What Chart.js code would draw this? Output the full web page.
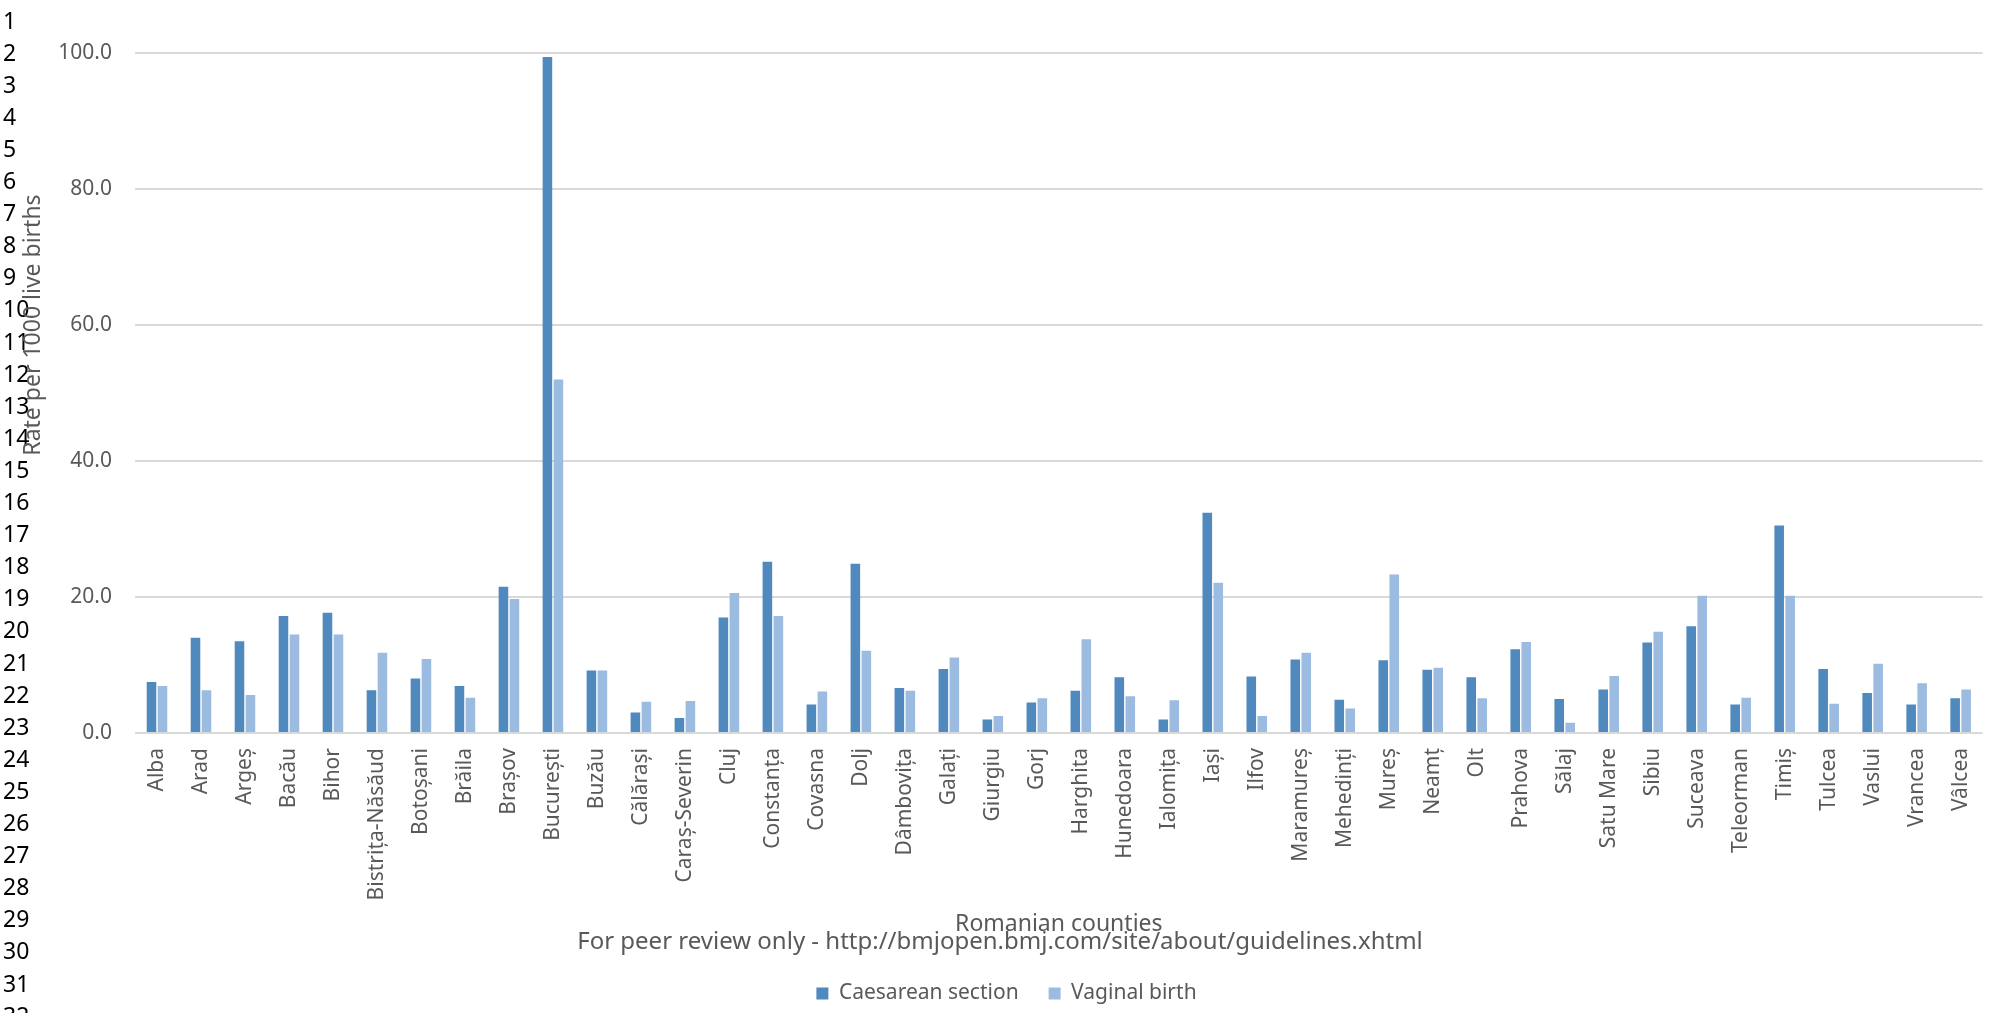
<!DOCTYPE html>
<html>
<head>
<meta charset="utf-8">
<title>Caesarean section and vaginal birth by county</title>
<script src="https://cdn.jsdelivr.net/npm/chart.js@4.4.1/dist/chart.umd.min.js"></script>
<style>
  html, body { margin: 0; padding: 0; background: #fff; }
  #wrap { width: 2001px; height: 1013px; }
</style>
</head>
<body>
<div id="wrap"><canvas id="chart" width="2001" height="1013"></canvas></div>
<script>
// judete (ordinea din grafic)
const judete = [
  "Alba", "Arad", "Argeș", "Bacău", "Bihor", "Bistrița-Năsăud", "Botoșani", "Brăila",
  "Brașov", "București", "Buzău", "Călărași", "Caraș-Severin", "Cluj", "Constanța",
  "Covasna", "Dolj", "Dâmbovița", "Galați", "Giurgiu", "Gorj", "Harghita", "Hunedoara",
  "Ialomița", "Iași", "Ilfov", "Maramureș", "Mehedinți", "Mureș", "Neamț", "Olt",
  "Prahova", "Sălaj", "Satu Mare", "Sibiu", "Suceava", "Teleorman", "Timiș", "Tulcea",
  "Vaslui", "Vrancea", "Vâlcea"
];

// rata la 1000 nascuti vii
const cezariana = [
  7.5, 14.0, 13.5, 17.2, 17.7, 6.3, 8.0, 6.9,
  21.5, 99.4, 9.2, 3.0, 2.2, 17.0, 25.2,
  4.2, 24.9, 6.6, 9.4, 2.0, 4.5, 6.2, 8.2,
  2.0, 32.4, 8.3, 10.8, 4.9, 10.7, 9.3, 8.2,
  12.3, 5.0, 6.4, 13.3, 15.7, 4.2, 30.5, 9.4,
  5.9, 4.2, 5.1
];
const nastereVaginala = [
  6.9, 6.3, 5.6, 14.5, 14.5, 11.8, 10.9, 5.2,
  19.7, 52.0, 9.2, 4.6, 4.7, 20.6, 17.2,
  6.1, 12.1, 6.2, 11.1, 2.5, 5.1, 13.8, 5.4,
  4.8, 22.1, 2.5, 11.8, 3.6, 23.3, 9.6, 5.1,
  13.4, 1.5, 8.4, 14.9, 20.2, 5.2, 20.2, 4.3,
  10.2, 7.3, 6.4
];

const yTicks = [0, 20, 40, 60, 80, 100];

const FONT = "'Noto Sans', 'Open Sans', sans-serif";
const GRI_TEXT = "#595959";

// numerele de rand din marginea manuscrisului + titlul axei Y + nota de subsol
const decor = {
  id: "decor",
  afterDraw(chart) {
    const c = chart.ctx;
    c.save();
    c.fillStyle = "#000";
    c.font = "23px " + FONT;
    c.textAlign = "left";
    c.textBaseline = "middle";
    for (let i = 1; i <= 32; i++) {
      c.fillText(String(i), 3, 22 + (i - 1) * 32.1);
    }

    c.fillStyle = GRI_TEXT;
    c.font = "23px " + FONT;
    c.translate(33, 325);
    c.rotate(-Math.PI / 2);
    c.textAlign = "center";
    c.fillText("Rate per 1000 live births", 0, 0);
    c.setTransform(1, 0, 0, 1, 0, 0);

    c.font = "24px " + FONT;
    c.textAlign = "center";
    c.fillText("For peer review only - http://bmjopen.bmj.com/site/about/guidelines.xhtml", 1000, 942);
    c.restore();
  }
};

new Chart(document.getElementById("chart"), {
  type: "bar",
  data: {
    labels: judete,
    datasets: [
      {
        label: "Caesarean section",
        data: cezariana,
        backgroundColor: "#4F89BD",
        borderWidth: 0
      },
      {
        label: "Vaginal birth",
        data: nastereVaginala,
        backgroundColor: "#9CBBE0",
        borderWidth: 0
      }
    ]
  },
  options: {
    responsive: false,
    animation: false,
    maintainAspectRatio: false,
    // stanga 25 + latimea axei Y 110 = marginea ariei de desen la 135
    layout: { padding: { top: 53, right: 13, left: 25, bottom: -1 } },
    datasets: {
      bar: { categoryPercentage: 0.5, barPercentage: 0.87 }
    },
    plugins: {
      legend: {
        position: "bottom",
        labels: {
          boxWidth: 12,
          boxHeight: 12,
          padding: 30,
          color: GRI_TEXT,
          font: { family: FONT, size: 21 }
        }
      },
      tooltip: { enabled: false }
    },
    scales: {
      x: {
        grid: { display: false, drawTicks: false },
        border: { display: false },
        ticks: {
          autoSkip: false,
          maxRotation: 90,
          minRotation: 90,
          padding: 15,
          color: GRI_TEXT,
          font: { family: FONT, size: 21 }
        },
        title: {
          display: true,
          text: "Romanian counties",
          color: GRI_TEXT,
          font: { family: FONT, size: 23 },
          padding: { top: 0, bottom: 15 }
        },
        afterFit(scale) { scale.height = 220; }
      },
      y: {
        min: 0,
        max: 100,
        afterBuildTicks(scale) { scale.ticks = yTicks.map(v => ({ value: v })); },
        grid: { color: "#d9d9d9", lineWidth: 2, drawTicks: false },
        border: { display: false },
        ticks: {
          padding: 23,
          color: GRI_TEXT,
          font: { family: FONT, size: 21 },
          callback: v => v.toFixed(1)
        },
        afterFit(scale) { scale.width = 110; }
      }
    }
  },
  plugins: [decor]
});
</script>
</body>
</html>
